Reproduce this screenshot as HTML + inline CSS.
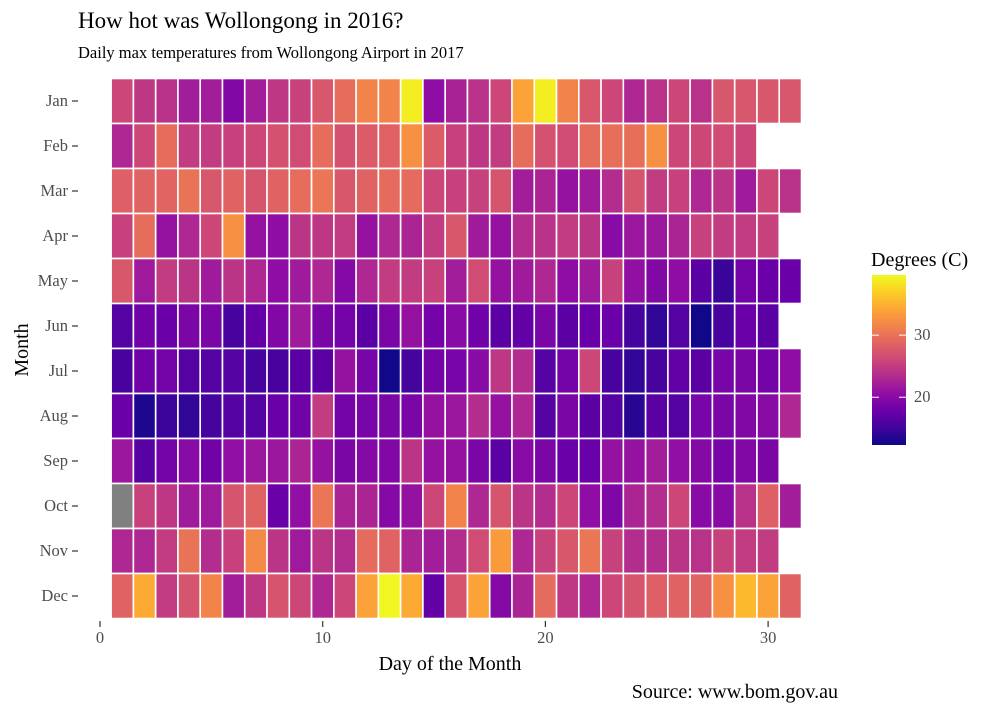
<!DOCTYPE html>
<html><head><meta charset="utf-8"><style>
body{margin:0;background:#fff;}
svg text{font-family:"Liberation Serif",serif;}
</style></head><body>
<svg id="chart" width="1000" height="714" xmlns="http://www.w3.org/2000/svg">
<text x="78" y="28" font-size="23" fill="#000">How hot was Wollongong in 2016?</text>
<text x="78" y="58" font-size="16.5" fill="#000">Daily max temperatures from Wollongong Airport in 2017</text>
<g id="cells"></g>
<g id="yaxis"></g>
<g id="xaxis"></g>
<text x="0" y="0" transform="translate(28,350) rotate(-90)" text-anchor="middle" font-size="20">Month</text>
<text x="450" y="670" text-anchor="middle" font-size="20">Day of the Month</text>
<text x="838" y="698" text-anchor="end" font-size="20">Source: www.bom.gov.au</text>
<text x="871" y="266" font-size="20">Degrees (C)</text>
<defs><linearGradient id="grad" x1="0" y1="1" x2="0" y2="0"></linearGradient></defs>
<rect x="872" y="275" width="34" height="170" fill="url(#grad)"/>
<g id="legend"></g>
</svg>
<script>
const months = ["Jan","Feb","Mar","Apr","May","Jun","Jul","Aug","Sep","Oct","Nov","Dec"];
const xTicks = [0,10,20,30];
const legendTicks = [20,30];
const temps = [
[26,24.5,24,22,22,19.5,22,24.5,25.5,27.5,29.5,31.5,31.5,39,20.5,22.5,24,26,34,39,31.5,27.5,26,23,24,26,24,27.5,27.5,27.5,27.5],
[23,26,29.5,25,25,25.5,26,27,26.5,29.5,27,28,28.5,32.5,28,25.5,24.5,25,29.5,27,26.5,29.5,29.7,29.7,32.5,26,26,26.5,26],
[28.3,28.6,28.7,30,27.5,28.6,27.2,28.6,29.5,30.3,27.6,28.6,29.3,29.3,26,25.5,25.5,27.2,22,22.7,21,21.8,23.5,27.2,25,25.5,23,24.3,21.8,26,24],
[25.5,29.5,21,23,26,32.5,21,20.5,24.3,24.5,25,21,23,22.7,25,27.6,21.8,21,23.5,24,25,24.3,20,21.5,21.5,22.7,25.5,25,25,25.5],
[27.6,21.7,25,24.3,21.8,24.3,23,20.5,21.8,23,19.8,23,25,25,25.5,22,26.5,21,21.8,23,20.5,21.8,25.5,20.7,19.5,20.5,16.8,14.6,18.5,17.8,17.8],
[16.3,18.3,17.8,19,19,15.5,17.3,19.5,21.8,19,18.5,16.8,19,21,18.5,20,18.3,16.8,17.3,19,16.8,17.8,17.8,15.3,14.2,16.3,12.5,15.5,17.8,16.8],
[15.5,18.3,18.5,16.3,16.3,16.3,15.3,15.5,16.8,16.8,21,18.8,12.5,15.3,18.5,18.8,20,24.5,23.5,16.3,18.5,26,15.5,14.2,15.5,17.3,16.8,18.8,19,18.5,20.5],
[17.8,13.2,14.8,14.2,15.3,16.3,16.3,17.8,18.3,25,18.5,18.8,19,19,21,21.5,23.5,21,23,16.3,19,16.8,16.3,13.7,16.8,16.3,18.8,19,19.5,20,23],
[21.5,16.6,18.5,20,18.3,20.7,21.5,21.5,22.7,21,19,19.8,19.5,24.3,21,21,19,16.8,20,19,17.8,17.8,21,21,22,20.7,19.8,18.8,19.5,19],
[null,25.5,24.5,21.8,21.7,27.2,28.6,17.8,20.7,30.3,22.7,22.7,19.8,21,26,31.5,23,27.2,24.3,23.5,26,20.5,19.3,22.7,23.5,26,20,20,24,28.3,22],
[23,23,25,30,23.5,25.5,32,24.3,21.7,24.3,23.5,29.3,28.6,22.7,22,23.5,26.5,33.3,23,25.5,27.6,30.3,25.5,23.5,23.5,24.3,24,25.5,25,25],
[28.6,34.5,25,27.2,31.5,22,24.5,27.2,26,23,26,34,39.5,34.5,17.3,27.2,34,19.8,22.7,29.3,24.5,23,26,27.2,28.3,28.6,28.6,32.5,35.5,34,28.6]
];
const stops=["#0d0887","#41049d","#6a00a8","#8f0da4","#b12a90","#cc4778","#e16462","#f2844b","#fca636","#fcce25","#f0f921"];
const vmin=12.3, vmax=39.7;
function hex(h){return [1,3,5].map(i=>parseInt(h.substr(i,2),16));}
function plasma(v){let t=Math.max(0,Math.min(1,(v-vmin)/(vmax-vmin)))*10;let i=Math.min(9,Math.floor(t));let f=t-i;
 const a=hex(stops[i]),b=hex(stops[i+1]);return "rgb("+a.map((c,k)=>Math.round(c+(b[k]-c)*f)).join(",")+")";}
const xs=d=>100+d*22.27;
const ys=m=>101+m*45;
const NS="http://www.w3.org/2000/svg";
function mk(tag,attrs,parent){const e=document.createElementNS(NS,tag);for(const k in attrs)e.setAttribute(k,attrs[k]);parent.appendChild(e);return e;}
const cells=document.getElementById('cells');
temps.forEach((row,m)=>row.forEach((v,i)=>{
 const d=i+1;
 const r=mk('rect',{x:xs(d-0.5),y:ys(m)-22.5,width:22.27,height:45,fill:v==null?"#808080":plasma(v),stroke:"#fff","stroke-width":1.6},cells);
 
 
}));
const ya=document.getElementById('yaxis');
months.forEach((mo,m)=>{
 const t=mk('text',{x:68,y:ys(m)+5,"text-anchor":"end","font-size":16.5,fill:"#4d4d4d"},ya);t.textContent=mo;
 
 
 const l=mk('line',{x1:72,x2:78,y1:ys(m),y2:ys(m),stroke:"#333","stroke-width":1.2},ya);
 
 
});
const xa=document.getElementById('xaxis');
xTicks.forEach(v=>{
 const l=mk('line',{x1:xs(v),x2:xs(v),y1:621,y2:627,stroke:"#333","stroke-width":1.2},xa);
 
 
 const t=mk('text',{x:xs(v),y:643,"text-anchor":"middle","font-size":16.5,fill:"#4d4d4d"},xa);t.textContent=v;
 
 
});
const g=document.getElementById('grad');
stops.forEach((c,i)=>mk('stop',{offset:(i*10)+"%","stop-color":c},g));
const lg=document.getElementById('legend');
const ly=v=>445-(v-vmin)/(vmax-vmin)*170;
legendTicks.forEach(v=>{
 mk('line',{x1:872,x2:879,y1:ly(v),y2:ly(v),stroke:"#fff","stroke-width":1},lg);
 mk('line',{x1:899,x2:906,y1:ly(v),y2:ly(v),stroke:"#fff","stroke-width":1},lg);
 const t=mk('text',{x:914,y:ly(v)+5,"font-size":16.5,fill:"#4d4d4d"},lg);t.textContent=v;
 
 
});
</script>
</body></html>
